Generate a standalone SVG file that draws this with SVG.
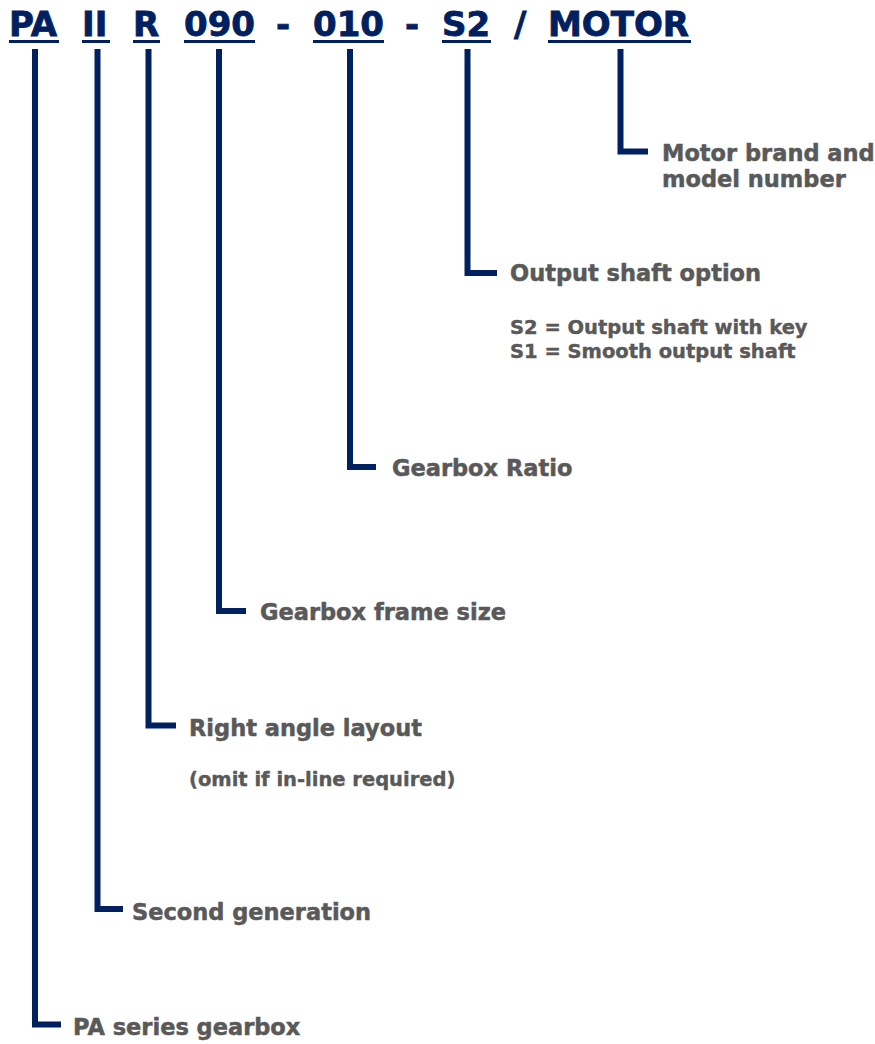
<svg xmlns="http://www.w3.org/2000/svg" width="875" height="1044" viewBox="0 0 875 1044">
<style>
.code{font-family:"DejaVu Sans",Verdana,sans-serif;font-weight:bold;font-size:34px;fill:#002060;stroke:#002060;stroke-width:0.8}
.lbl{font-family:"DejaVu Sans",Verdana,sans-serif;font-weight:bold;font-size:22.5px;fill:#595959;stroke:#595959;stroke-width:0.5}
.sub{font-family:"DejaVu Sans",Verdana,sans-serif;font-weight:bold;font-size:19.5px;fill:#595959;stroke:#595959;stroke-width:0.4}
.ul{fill:#002060}
.conn{fill:none;stroke:#002060;stroke-width:6;stroke-linejoin:miter;stroke-linecap:butt}
</style>
<rect width="875" height="1044" fill="#ffffff"/>
<g id="code">
<text class="code" x="9" y="36">PA</text>
<text class="code" x="82" y="36">II</text>
<text class="code" x="133" y="36">R</text>
<text class="code" x="184" y="36">090</text>
<text class="code" x="276" y="36">-</text>
<text class="code" x="313" y="36">010</text>
<text class="code" x="405" y="36">-</text>
<text class="code" x="442" y="36">S2</text>
<text class="code" x="514" y="36">/</text>
<text class="code" x="548" y="36">MOTOR</text>
<rect class="ul" x="9" y="40" width="50" height="3"/>
<rect class="ul" x="82" y="40" width="28" height="3"/>
<rect class="ul" x="133" y="40" width="27" height="3"/>
<rect class="ul" x="184" y="40" width="71" height="3"/>
<rect class="ul" x="313" y="40" width="71" height="3"/>
<rect class="ul" x="442" y="40" width="49" height="3"/>
<rect class="ul" x="548" y="40" width="143" height="3"/>
</g>
<g id="connectors">
<path class="conn" d="M35,49 V1024.5 H61"/>
<path class="conn" d="M97.5,49 V909 H123"/>
<path class="conn" d="M148.5,49 V725.5 H176"/>
<path class="conn" d="M219,49 V611 H246"/>
<path class="conn" d="M350,49 V467 H376"/>
<path class="conn" d="M467.5,49 V273 H497"/>
<path class="conn" d="M620.5,49 V151.5 H648"/>
</g>
<g id="motor">
<text class="lbl" x="662" y="161">Motor brand and</text>
<text class="lbl" x="662" y="187">model number</text>
</g>
<g id="output-shaft">
<text class="lbl" x="510" y="281">Output shaft option</text>
<text class="sub" x="510" y="334">S2 = Output shaft with key</text>
<text class="sub" x="510" y="358">S1 = Smooth output shaft</text>
</g>
<g id="ratio">
<text class="lbl" x="392" y="476">Gearbox Ratio</text>
</g>
<g id="frame-size">
<text class="lbl" x="260" y="620">Gearbox frame size</text>
</g>
<g id="right-angle">
<text class="lbl" x="189" y="736">Right angle layout</text>
<text class="sub" x="189" y="786">(omit if in-line required)</text>
</g>
<g id="generation">
<text class="lbl" x="132" y="920">Second generation</text>
</g>
<g id="series">
<text class="lbl" x="73" y="1035">PA series gearbox</text>
</g>
</svg>
